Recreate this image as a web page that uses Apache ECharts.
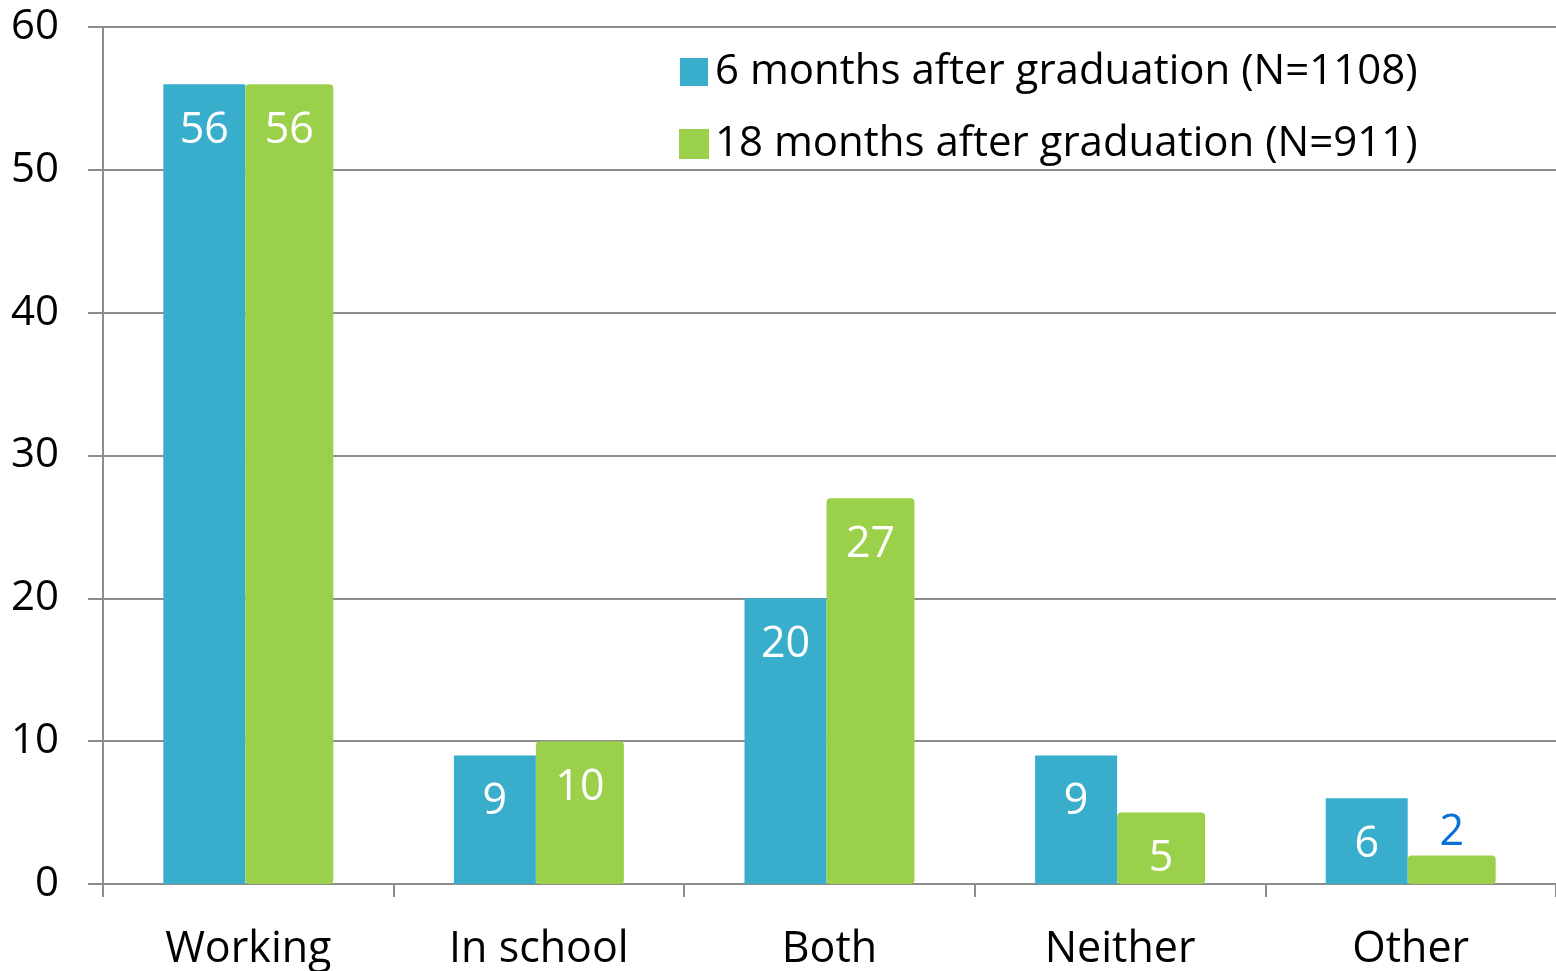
<!DOCTYPE html>
<html><head><meta charset="utf-8">
<script src="https://cdn.jsdelivr.net/npm/echarts@6/dist/echarts.min.js"></script>
<style>html,body{margin:0;padding:0;background:#fff}#c{width:1556px;height:971px}</style>
</head><body><div id="c"></div>
<script>
const categories = ['Working', 'In school', 'Both', 'Neither', 'Other'];
const seriesNames = ['6 months after graduation (N=1108)', '18 months after graduation (N=911)'];
const values6 = [56, 9, 20, 9, 6];
const values18 = [56, 10, 27, 5, 2];
const yTicks = { min: 0, max: 60, interval: 10 };

const FONT = '"Open Sans", sans-serif';
const BLUE = '#39AECC', GREEN = '#9BD04B', GRAY = '#8C8C8C';

function labelFor(color) {
  return { show: true, position: 'insideTop', distance: 25, color: color, fontSize: 43, fontFamily: FONT };
}

const chart = echarts.init(document.getElementById('c'));
chart.setOption({
  animation: false,
  textStyle: { fontFamily: FONT },
  grid: { left: 103, right: 0, top: 27, bottom: 85 },
  legend: {
    orient: 'vertical', left: 674, top: 46, itemWidth: 28, itemHeight: 28, itemGap: 30,
    icon: 'rect', textStyle: { fontSize: 42, color: '#000', fontFamily: FONT, padding: [0, 0, 0, 2] },
    data: seriesNames
  },
  xAxis: {
    type: 'category', data: categories,
    axisLine: { lineStyle: { color: GRAY, width: 2 } },
    axisTick: { show: true, length: 13, lineStyle: { color: GRAY, width: 2 } },
    axisLabel: { fontSize: 43, color: '#000', margin: 44, fontFamily: FONT }
  },
  yAxis: {
    type: 'value', min: yTicks.min, max: yTicks.max, interval: yTicks.interval,
    axisLine: { show: true, lineStyle: { color: GRAY, width: 2 } },
    axisTick: { show: true, length: 15, lineStyle: { color: GRAY, width: 2 } },
    axisLabel: { fontSize: 42, color: '#000', margin: 44, fontFamily: FONT },
    splitLine: { lineStyle: { color: GRAY, width: 2 } }
  },
  series: [
    {
      name: seriesNames[0], type: 'bar', data: values6, barWidth: 82, barGap: '0%',
      itemStyle: { color: BLUE },
      label: labelFor('#fff')
    },
    {
      name: seriesNames[1], type: 'bar', data: values18.map((v, i) => {
        if (v < 4) return { value: v, label: { position: 'top', distance: 1, color: '#0A6FD6' } };
        return v;
      }), barWidth: 88,
      itemStyle: { color: GREEN, borderColor: GREEN, borderWidth: 2, borderRadius: 3 },
      label: labelFor('#fff')
    }
  ]
});
</script></body></html>
